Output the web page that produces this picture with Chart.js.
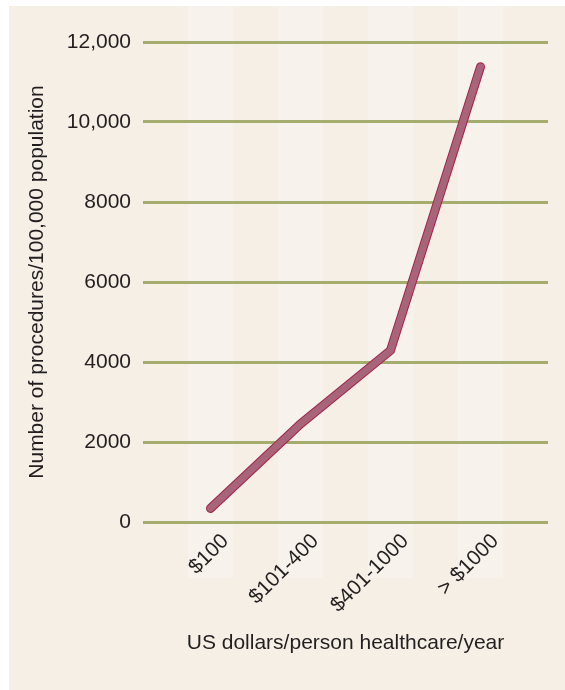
<!DOCTYPE html>
<html>
<head>
<meta charset="utf-8">
<script src="https://cdn.jsdelivr.net/npm/chart.js@4"></script>
<style>
html,body{margin:0;padding:0;background:#fff;}
canvas{display:block;}
</style>
</head>
<body>
<canvas id="c" width="565" height="690"></canvas>
<script>
const categories = ['$100', '$101-400', '$401-1000', '> $1000'];
const procedures = [340, 2450, 4290, 11380];
const yTicks = [0, 2000, 4000, 6000, 8000, 10000, 12000];
const yTickLabels = ['0', '2000', '4000', '6000', '8000', '10,000', '12,000'];

const FONT = "'Liberation Sans', Arial, Helvetica, sans-serif";
const TEXT = '#231f20';

const bgPlugin = {
  id: 'bg',
  beforeDraw(chart) {
    const ctx = chart.ctx;
    const xs = chart.scales.x;
    ctx.save();
    ctx.fillStyle = '#ffffff';
    ctx.fillRect(0, 0, chart.width, chart.height);
    ctx.fillStyle = '#f5efe6';
    ctx.fillRect(9, 6, chart.width - 9, chart.height - 6);
    ctx.fillStyle = '#f7f3ec';
    categories.forEach((c, i) => {
      const l = xs.getPixelForValue(i - 0.25);
      const r = xs.getPixelForValue(i + 0.25);
      ctx.fillRect(l, 6, r - l, 578 - 6);
    });
    ctx.restore();
  }
};

const points = procedures.map((v, i) => ({x: i, y: v}));

new Chart(document.getElementById('c'), {
  type: 'line',
  data: {
    datasets: [
      {
        data: points,
        order: 2,
        borderColor: '#a3214f',
        borderWidth: 9,
        borderCapStyle: 'round',
        borderJoinStyle: 'miter',
        pointRadius: 0,
        tension: 0,
        fill: false
      },
      {
        data: points,
        order: 1,
        borderColor: '#a86478',
        borderWidth: 7,
        borderCapStyle: 'round',
        borderJoinStyle: 'miter',
        pointRadius: 0,
        tension: 0,
        fill: false
      }
    ]
  },
  options: {
    responsive: false,
    devicePixelRatio: 1,
    animation: false,
    layout: {padding: {left: 0, top: 42, right: 17, bottom: 0}},
    plugins: {legend: {display: false}, tooltip: {enabled: false}},
    scales: {
      x: {
        type: 'linear',
        min: -0.75,
        max: 3.75,
        afterBuildTicks(scale) { scale.ticks = categories.map((c, i) => ({value: i})); },
        afterFit(scale) { scale.height = 168; },
        grid: {display: false, drawTicks: false},
        border: {display: false},
        ticks: {
          autoSkip: false,
          maxRotation: 45,
          minRotation: 45,
          labelOffset: 15,
          padding: 7,
          color: TEXT,
          font: {family: FONT, size: 21},
          callback: (v) => categories[v]
        },
        title: {
          display: true,
          text: 'US dollars/person healthcare/year',
          color: TEXT,
          font: {family: FONT, size: 21},
          padding: {top: 4, bottom: 34}
        }
      },
      y: {
        min: 0,
        max: 12000,
        afterBuildTicks(scale) { scale.ticks = yTicks.map(v => ({value: v})); },
        afterFit(scale) { scale.width = 143; },
        grid: {color: '#a5ad6e', lineWidth: 3, drawTicks: false},
        border: {display: false},
        ticks: {
          padding: 12,
          color: TEXT,
          font: {family: FONT, size: 21},
          callback: (v) => yTickLabels[yTicks.indexOf(v)]
        },
        title: {
          display: true,
          text: 'Number of procedures/100,000 population',
          color: TEXT,
          font: {family: FONT, size: 21},
          padding: {top: 25, bottom: 0}
        }
      }
    }
  },
  plugins: [bgPlugin]
});
</script>
</body>
</html>
